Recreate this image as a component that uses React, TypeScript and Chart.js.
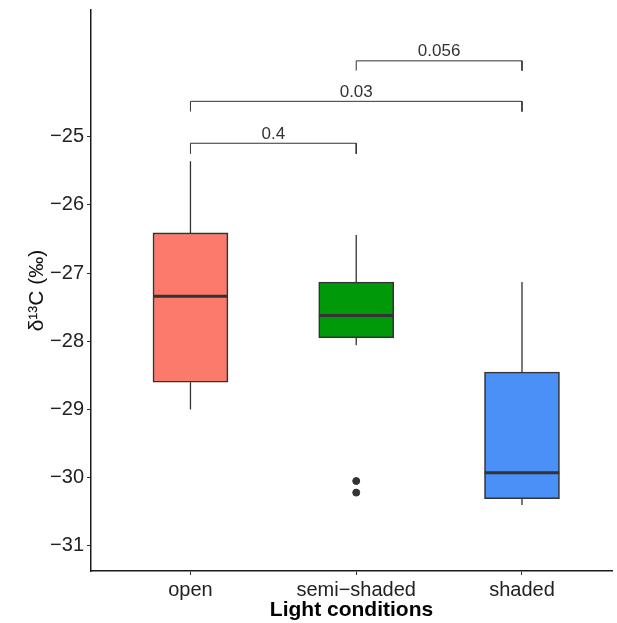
import React, { useEffect, useRef } from 'react';
import { Chart, registerables } from 'chart.js';

Chart.register(...registerables);

// ---- data ----
const categories = ['open', 'semi\u2212shaded', 'shaded'];
const whiskerLow = [-29.0, -28.06, -30.4];
const q1 = [-28.6, -27.95, -30.31];
const median = [-27.34, -27.62, -29.93];
const q3 = [-26.41, -27.13, -28.45];
const whiskerHigh = [-25.36, -26.44, -27.13];
const outlierGroup = [2, 2];
const outlierValues = [-30.05, -30.22];
const yTicks = [-31, -30, -29, -28, -27, -26, -25];
const boxColors = ['#FC7A6B', '#00990A', '#4A90F7'];

const comparisonFrom = [1, 1, 2];
const comparisonTo = [2, 3, 3];
const comparisonLabels = ['0.4', '0.03', '0.056'];
const bracketTop = [-25.095, -24.48, -23.886];
const bracketTip = [-25.25, -24.63, -24.03];

const BOX_HALF = 0.225;
const FONT = '"Liberation Sans", Arial, Helvetica, sans-serif';

const bracketLabelPlugin = {
  id: 'bracketLabels',
  afterDatasetsDraw(chart: any) {
    const { ctx, scales } = chart;
    const x = scales.x;
    const y = scales.y;
    ctx.save();
    ctx.font = `17px ${FONT}`;
    ctx.fillStyle = '#333333';
    ctx.textAlign = 'center';
    ctx.textBaseline = 'alphabetic';
    comparisonLabels.forEach((t, i) => {
      const px = (x.getPixelForValue(comparisonFrom[i]) + x.getPixelForValue(comparisonTo[i])) / 2;
      const py = y.getPixelForValue(bracketTop[i]) - 4.5;
      ctx.fillText(t, px, py);
    });
    ctx.restore();
  },
};

export default function App() {
  const ref = useRef<HTMLCanvasElement | null>(null);

  useEffect(() => {
    if (!ref.current) return;

    const whiskerData: any[] = [];
    categories.forEach((_, i) => {
      whiskerData.push({ x: i + 1, y: whiskerHigh[i] }, { x: i + 1, y: q3[i] }, { x: i + 1, y: null });
      whiskerData.push({ x: i + 1, y: q1[i] }, { x: i + 1, y: whiskerLow[i] }, { x: i + 1, y: null });
    });

    const medianData: any[] = [];
    categories.forEach((_, i) => {
      medianData.push({ x: i + 1 - BOX_HALF, y: median[i] }, { x: i + 1 + BOX_HALF, y: median[i] }, { x: i + 1, y: null });
    });

    const bracketData: any[] = [];
    comparisonLabels.forEach((_, i) => {
      bracketData.push(
        { x: comparisonFrom[i], y: bracketTip[i] },
        { x: comparisonFrom[i], y: bracketTop[i] },
        { x: comparisonTo[i], y: bracketTop[i] },
        { x: comparisonTo[i], y: bracketTip[i] },
        { x: comparisonTo[i], y: null }
      );
    });

    const chart = new Chart(ref.current, {
      type: 'bar',
      data: {
        datasets: [
          {
            type: 'line',
            label: 'whiskers',
            data: whiskerData,
            borderColor: '#333333',
            borderWidth: 1.3,
            pointRadius: 0,
            spanGaps: false,
            order: 3,
          } as any,
          {
            type: 'bar',
            label: 'boxes',
            data: categories.map((_, i) => ({ x: i + 1, y: [q1[i], q3[i]] })),
            backgroundColor: boxColors,
            borderColor: '#333333',
            borderWidth: 1.6,
            borderSkipped: false,
            barThickness: 75,
            order: 2,
          } as any,
          {
            type: 'line',
            label: 'medians',
            data: medianData,
            borderColor: '#333333',
            borderWidth: 3,
            pointRadius: 0,
            spanGaps: false,
            order: 1,
          } as any,
          {
            type: 'scatter',
            label: 'outliers',
            data: outlierValues.map((v, i) => ({ x: outlierGroup[i], y: v })),
            backgroundColor: '#333333',
            borderColor: '#333333',
            pointRadius: 3.5,
            order: 1,
          } as any,
          {
            type: 'line',
            label: 'brackets',
            data: bracketData,
            borderColor: '#333333',
            borderWidth: 1,
            pointRadius: 0,
            spanGaps: false,
            order: 0,
          } as any,
        ],
      },
      options: {
        animation: false,
        responsive: false,
        layout: { padding: { top: 10, right: 0, bottom: 0, left: 0 } },
        plugins: { legend: { display: false }, tooltip: { enabled: false } },
        scales: {
          x: {
            type: 'linear',
            min: 0.4,
            max: 3.543,
            offset: false,
            grid: { display: true, drawOnChartArea: false, drawTicks: true, tickLength: 4, color: '#333333', offset: false },
            border: { display: true, color: '#1a1a1a', width: 1.5 },
            ticks: {
              autoSkip: false,
              maxRotation: 0,
              padding: 3,
              color: '#222222',
              font: { family: FONT, size: 20 },
              callback: (v: any) => categories[Number(v) - 1] ?? '',
            },
            afterBuildTicks: (s: any) => {
              s.ticks = categories.map((_, i) => ({ value: i + 1 }));
            },
            afterFit: (s: any) => {
              s.height = 52;
              s.paddingLeft = 0;
              s.paddingRight = 0;
              s.paddingTop = 0;
              s.paddingBottom = 0;
            },
            title: {
              display: true,
              text: 'Light conditions',
              color: '#000000',
              font: { family: FONT, size: 21, weight: 'bold' },
              padding: { top: 0, bottom: 0 },
            },
          } as any,
          y: {
            type: 'linear',
            min: -31.37,
            max: -23.14,
            beginAtZero: false,
            grid: { display: true, drawOnChartArea: false, drawTicks: true, tickLength: 4, color: '#333333' },
            border: { display: true, color: '#1a1a1a', width: 1.5 },
            ticks: {
              padding: 3,
              color: '#222222',
              font: { family: FONT, size: 20 },
              callback: (v: any) => String(v).replace('-', '\u2212'),
            },
            afterBuildTicks: (s: any) => {
              s.ticks = yTicks.map((v) => ({ value: v }));
            },
            afterFit: (s: any) => {
              s.width = 91;
              s.paddingLeft = 0;
              s.paddingRight = 0;
              s.paddingTop = 0;
              s.paddingBottom = 0;
            },
            title: {
              display: true,
              text: '\u03B4\u00B9\u00B3C (\u2030)',
              color: '#111111',
              font: { family: FONT, size: 21 },
              padding: { top: 25, bottom: 0 },
            },
          } as any,
        },
      },
      plugins: [bracketLabelPlugin],
    });

    return () => chart.destroy();
  }, []);

  return (
    <div style={{ position: 'fixed', left: 0, top: 0, width: 617, height: 623, background: '#ffffff' }}>
      <canvas ref={ref} width={617} height={623} style={{ display: 'block', width: 617, height: 623 }} />
    </div>
  );
}
